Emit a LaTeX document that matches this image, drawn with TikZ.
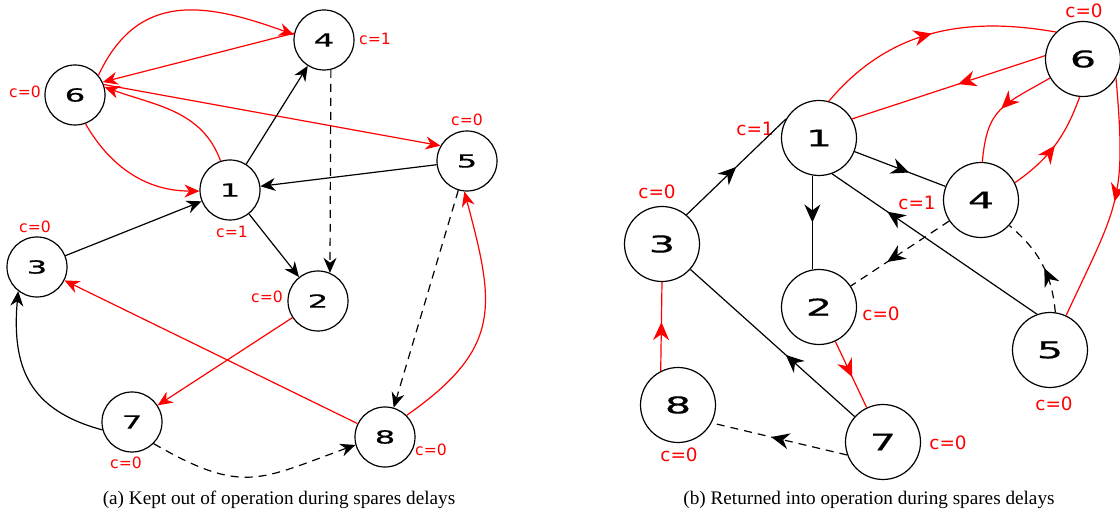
\documentclass[tikz,border=0pt]{standalone}
\usepackage{fontspec}
\setmainfont{Liberation Serif}
\newfontfamily\numfont[FakeStretch=1.8,FakeBold=0.6]{DejaVu Sans}
\newfontfamily\cntfont{DejaVu Sans}
\usetikzlibrary{arrows.meta,decorations.markings}
\begin{document}
\begin{tikzpicture}[x=0.5pt,y=-0.5pt,
    sv/.style={draw,circle,minimum size=30pt,inner sep=0pt,line width=0.6pt,font=\fontsize{9}{9}\numfont},
    bv/.style={draw,circle,minimum size=37.5pt,inner sep=0pt,line width=0.6pt,font=\fontsize{11.5}{11.5}\numfont},
    sc/.style={red,inner sep=0pt,font=\fontsize{7.8}{8}\cntfont},
    bc/.style={red,inner sep=0pt,font=\fontsize{9.2}{9}\cntfont},
    se/.style={line width=0.6pt,-{Stealth[length=7.5pt,width=6.5pt]}},
    be/.style={line width=0.6pt,postaction={decorate},
        decoration={markings,mark=at position #1 with {\arrow{Stealth[length=9pt,width=8pt]}}}},
    be/.default=0.5,
    dsh/.style={dash pattern=on 4pt off 3pt}]
    \useasboundingbox (0,0) rectangle (1120,518);
    \node[sv] (l6) at (75,95) {6};
    \node[sv] (l4) at (324,40) {4};
    \node[sv] (l1) at (230,190) {1};
    \node[sv] (l5) at (467,161) {5};
    \node[sv] (l3) at (37,267) {3};
    \node[sv] (l2) at (318,301) {2};
    \node[sv] (l7) at (132,422) {7};
    \node[sv] (l8) at (385,437) {8};
    \node[sc] (c6) at (25,92) {c=0};
    \node[sc] (c4) at (375,39) {c=1};
    \node[sc] (c1) at (232,232) {c=1};
    \node[sc] (c5) at (467,120) {c=0};
    \node[sc] (c3) at (35,227) {c=0};
    \node[sc] (c2) at (267,297) {c=0};
    \node[sc] (c7) at (126,463) {c=0};
    \node[sc] (c8) at (431,450) {c=0};
    \draw[se,red] (l6.40) to[out=65,in=160,looseness=1.2] (l4.170);
    \draw[se,red] (l4.167) -- (l6.25);
    \draw[se,red] (l1.108) to[out=110,in=-20] (l6.15);
    \draw[se,red] (l6.-70) to[out=-60,in=180] (l1.182);
    \draw[se,red] (l6.20) -- (l5.150);
    \draw[se] (l1) -- (l4);
    \draw[se] (l5) -- (l1);
    \draw[se] (l3) -- (l1);
    \draw[se] (l1) -- (l2);
    \draw[se,dsh] (l4.-77) -- (l2.67);
    \draw[se,dsh] (l5) -- (l8);
    \draw[se,red] (l8.45) to[out=35,in=-75,looseness=1.3] (l5.-95);
    \draw[se,red] (l2) -- (l7);
    \draw[se,red] (l8) -- (l3);
    \draw[se] (l7.-165) to[out=165,in=-95,looseness=1.2] (l3.-128);
    \draw[se,dsh] (l7.-45) to[out=-30,in=200,looseness=1.3] (l8.195);
    \node[bv] (r1) at (819,138) {1};
    \node[bv] (r6) at (1083,59) {6};
    \node[bv] (r4) at (981,200) {4};
    \node[bv] (r3) at (662,244) {3};
    \node[bv] (r2) at (819,307) {2};
    \node[bv] (r8) at (678,405) {8};
    \node[bv] (r7) at (883,442) {7};
    \node[bv] (r5) at (1050,350) {5};
    \node[bc] (d1) at (755,129) {c=1};
    \node[bc] (d6) at (1084,11) {c=0};
    \node[bc] (d4) at (917,203) {c=1};
    \node[bc] (d3) at (657,192) {c=0};
    \node[bc] (d2) at (881,314) {c=0};
    \node[bc] (d8) at (679,455) {c=0};
    \node[bc] (d7) at (948,443) {c=0};
    \node[bc] (d5) at (1054,404) {c=0};
    \draw[be,red] (r1.75) to[out=50,in=170] (r6.135);
    \draw[be=0.45,red] (r6.175) -- (r1.30);
    \draw[be,red] (r6.-150) to[out=-150,in=85,looseness=1.3] (r4.88);
    \draw[be,red] (r4.27) to[out=35,in=-110] (r6.-95);
    \draw[be,red] (r6.-30) to[out=-85,in=65,looseness=1.3] (r5.65);
    \draw[be=0.6] (r1) -- (r4);
    \draw[be=0.73] (r5.110) -- (r1.-70);
    \draw[be] (r1.-100) -- (r2.100);
    \draw[be] (r3.50) -- (r1.150);
    \draw[be=0.63,dsh] (r4) -- (r2);
    \draw[be=0.45,dsh] (r5.82) to[out=95,in=-40] (r4.-42);
    \draw[be=0.42] (r7) -- (r3);
    \draw[be=0.54,red] (r2) -- (r7);
    \draw[be=0.55,red] (r8.117) -- (r3.-90);
    \draw[be=0.56,dsh] (r7.200) -- (r8.-28);
    \node[font=\fontsize{9.6}{10}\selectfont] (capa) at (279,500) {(a) Kept out of operation during spares delays};
    \node[font=\fontsize{9.6}{10}\selectfont] (capb) at (869,500) {(b) Returned into operation during spares delays};
\end{tikzpicture}
\end{document}
